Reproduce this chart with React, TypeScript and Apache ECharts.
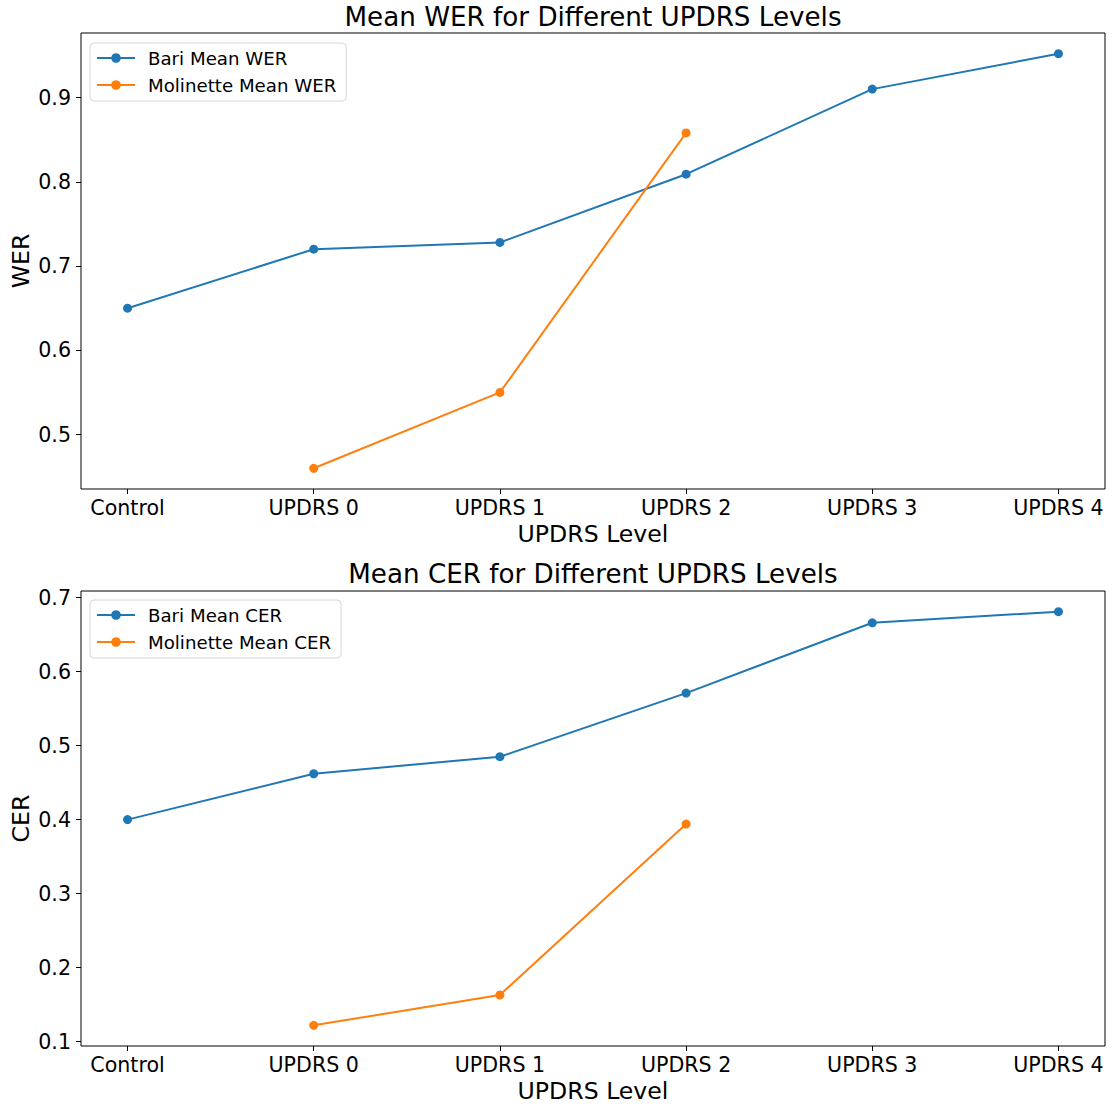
import React, { useEffect, useRef } from "react";
import * as echarts from "echarts";

const categories = ["Control", "UPDRS 0", "UPDRS 1", "UPDRS 2", "UPDRS 3", "UPDRS 4"];
const bariWER = [0.65, 0.72, 0.728, 0.809, 0.91, 0.952];
const molinetteWERCats = [1, 2, 3];
const molinetteWER = [0.46, 0.55, 0.858];
const bariCER = [0.4, 0.462, 0.485, 0.571, 0.666, 0.681];
const molinetteCERCats = [1, 2, 3];
const molinetteCER = [0.122, 0.163, 0.394];
const werTicks = [0.5, 0.6, 0.7, 0.8, 0.9];
const cerTicks = [0.1, 0.2, 0.3, 0.4, 0.5, 0.6, 0.7];

const FONT = "DejaVu Sans";
const BLUE = "#1f77b4";
const ORANGE = "#ff7f0e";

function range(vals: number[]) {
  const lo = Math.min(...vals);
  const hi = Math.max(...vals);
  const m = (hi - lo) * 0.05;
  return [lo - m, hi + m];
}

export default function App() {
  const ref = useRef<HTMLDivElement>(null);
  useEffect(() => {
    const chart = echarts.init(ref.current!, null, { renderer: "svg" });
    const [w0, w1] = range([...bariWER, ...molinetteWER]);
    const [c0, c1] = range([...bariCER, ...molinetteCER]);
    const catIdx = categories.map((_, i) => i);

    const xAxis = (gridIndex: number) => ({
      type: "value",
      gridIndex,
      min: -0.25,
      max: categories.length - 1 + 0.25,
      name: "UPDRS Level",
      nameLocation: "middle",
      nameGap: 33,
      nameMoveOverlap: false,
      nameTextStyle: { fontFamily: FONT, fontSize: 23.6, color: "#000" },
      axisLine: { show: false, onZero: false },
      splitLine: { show: false },
      axisTick: { show: true, customValues: catIdx, length: 5, lineStyle: { color: "#000" } },
      axisLabel: {
        customValues: catIdx,
        formatter: (v: number) => categories[Math.round(v)],
        fontFamily: FONT,
        fontSize: 20.6,
        color: "#000",
        margin: 8,
        hideOverlap: false,
      },
    });
    const yAxis = (gridIndex: number, min: number, max: number, ticks: number[], name: string) => ({
      type: "value",
      gridIndex,
      min,
      max,
      name,
      nameLocation: "middle",
      nameGap: 48,
      nameMoveOverlap: false,
      nameTextStyle: { fontFamily: FONT, fontSize: 23.6, color: "#000" },
      axisLine: { show: false, onZero: false },
      splitLine: { show: false },
      axisTick: { show: true, customValues: ticks, length: 5, lineStyle: { color: "#000" } },
      axisLabel: {
        customValues: ticks,
        formatter: (v: number) => v.toFixed(1),
        fontFamily: FONT,
        fontSize: 20.6,
        color: "#000",
        margin: 10,
      },
    });
    const lineSeries = (name: string, color: string, xi: number, xs: number[], ys: number[]) => ({
      type: "line",
      name,
      xAxisIndex: xi,
      yAxisIndex: xi,
      data: ys.map((v, i) => [xs[i], v]),
      symbol: "circle",
      symbolSize: 9,
      showSymbol: true,
      itemStyle: { color },
      lineStyle: { color, width: 2 },
    });
    const legend = (top: number, names: string[]) => ({
      orient: "vertical",
      left: 90,
      top,
      data: names,
      itemWidth: 38,
      itemHeight: 12,
      itemGap: 9,
      padding: [6, 10, 7, 6],
      borderColor: "#d6d6d6",
      borderWidth: 1,
      borderRadius: 4,
      backgroundColor: "rgba(255,255,255,0.8)",
      textStyle: { fontFamily: FONT, fontSize: 18.2, color: "#000", padding: [0, 0, 0, 8] },
    });

    chart.setOption({
      animation: false,
      backgroundColor: "#fff",
      title: [
        {
          text: "Mean WER for Different UPDRS Levels",
          left: 593,
          top: 4,
          padding: 0,
          textAlign: "center",
          textStyle: { fontFamily: FONT, fontSize: 26.2, fontWeight: "normal", color: "#000" },
        },
        {
          text: "Mean CER for Different UPDRS Levels",
          left: 593,
          top: 561,
          padding: 0,
          textAlign: "center",
          textStyle: { fontFamily: FONT, fontSize: 26.2, fontWeight: "normal", color: "#000" },
        },
      ],
      legend: [
        legend(43, ["Bari Mean WER", "Molinette Mean WER"]),
        legend(600, ["Bari Mean CER", "Molinette Mean CER"]),
      ],
      grid: [
        { left: 81, top: 33, width: 1024, height: 456, show: true, borderColor: "#000", borderWidth: 1, containLabel: false, outerBoundsMode: "none" },
        { left: 81, top: 591, width: 1024, height: 455, show: true, borderColor: "#000", borderWidth: 1, containLabel: false, outerBoundsMode: "none" },
      ],
      xAxis: [xAxis(0), xAxis(1)],
      yAxis: [yAxis(0, w0, w1, werTicks, "WER"), yAxis(1, c0, c1, cerTicks, "CER")],
      series: [
        lineSeries("Bari Mean WER", BLUE, 0, catIdx, bariWER),
        lineSeries("Molinette Mean WER", ORANGE, 0, molinetteWERCats, molinetteWER),
        lineSeries("Bari Mean CER", BLUE, 1, catIdx, bariCER),
        lineSeries("Molinette Mean CER", ORANGE, 1, molinetteCERCats, molinetteCER),
      ],
    });
    return () => chart.dispose();
  }, []);
  return (
    <div
      ref={ref}
      style={{ position: "absolute", left: 0, top: 0, width: 1113, height: 1108 }}
    />
  );
}
